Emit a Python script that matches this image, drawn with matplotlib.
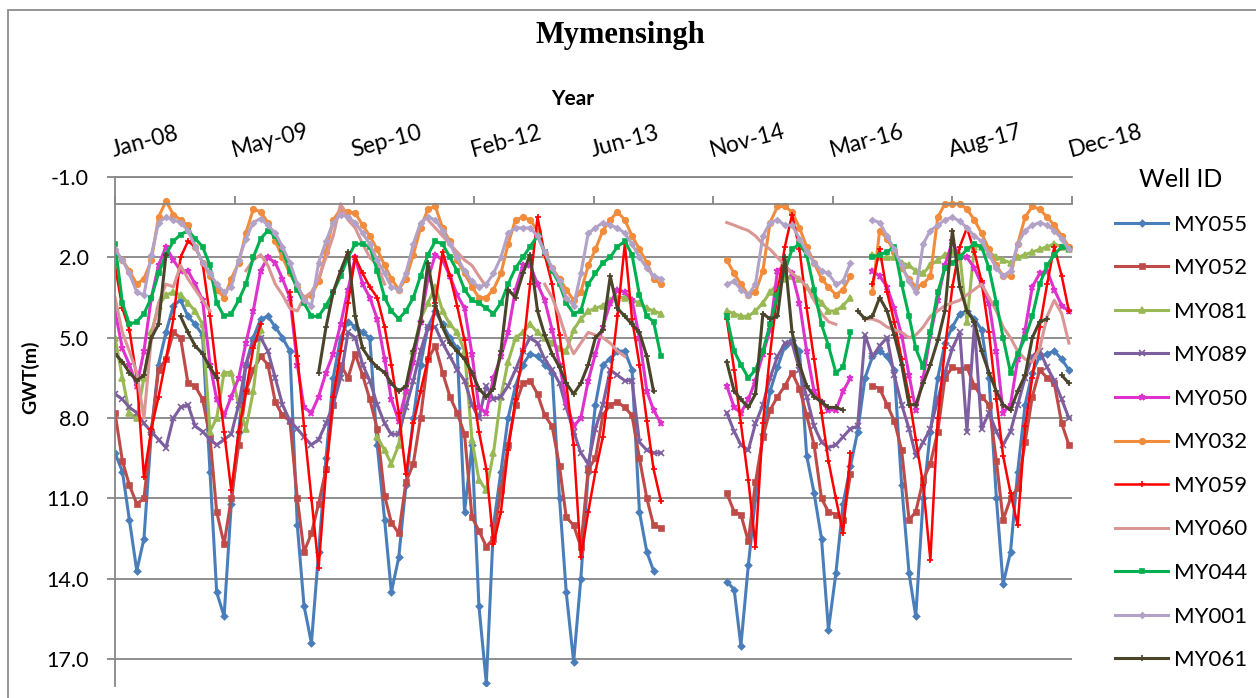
import numpy as np
import pandas as pd
import matplotlib
matplotlib.use('Agg')
from matplotlib import pyplot as plt
from matplotlib.patches import Rectangle
from matplotlib.ticker import FormatStrFormatter

NA = np.nan

# monthly readings, Jan 2008 .. Dec 2018 (one row per year)
months = pd.date_range('2008-01-01', periods=132, freq='MS')
tick_labels = ['Jan-08', 'May-09', 'Sep-10', 'Feb-12', 'Jun-13', 'Nov-14', 'Mar-16', 'Aug-17', 'Dec-18']
tick_step_days = 500

my055 = [9.3, 10.0, 11.8, 13.7, 12.5, 8.5, 6.0, 4.8, 3.8, 3.6, 4.2, 4.5,
         4.9, 10.0, 14.5, 15.4, 11.2, 8.5, 6.0, 5.0, 4.3, 4.2, 4.6, 5.0,
         5.5, 12.0, 15.0, 16.4, 13.0, 9.5, 6.5, 5.0, 4.4, 4.6, 4.8, 5.0,
         9.0, 11.8, 14.5, 13.2, 10.5, 8.0, 6.0, 4.6, 4.0, 4.5, 5.0, 5.4,
         11.5, 9.0, 15.0, 17.9, 12.0, 10.0, 8.0, 6.8, 6.0, 5.6, 5.7, 6.0,
         6.3, 11.0, 14.5, 17.1, 14.0, 10.0, 7.5, 6.0, 5.8, 5.5, 5.5, 6.2,
         11.5, 13.0, 13.7, NA, NA, NA, NA, NA, NA, NA, NA, NA,
         14.1, 14.4, 16.5, 13.5, 11.0, 8.6, 7.0, 6.1, 5.3, 5.1, 5.5, 9.4,
         10.8, 12.5, 15.9, 13.8, 11.2, 9.8, 8.5, 6.5, 5.7, 5.5, 5.7, 6.2,
         10.5, 13.8, 15.4, 11.0, 8.5, 6.5, 5.2, 4.6, 4.1, 4.0, 4.3, 4.7,
         6.5, 11.0, 14.2, 13.0, 10.0, 7.5, 6.3, 5.7, 5.6, 5.5, 5.8, 6.2]

my052 = [7.8, 9.6, 10.5, 11.2, 11.0, 8.5, 6.2, 5.8, 4.8, 5.0, 6.7, 6.8,
         7.3, 8.7, 11.5, 12.7, 11.0, 9.0, 7.0, 6.2, 5.7, 6.0, 7.4, 7.9,
         8.1, 11.0, 13.0, 12.3, 11.2, 9.9, 7.5, 6.0, 6.5, 5.6, 6.4, 7.3,
         8.4, 10.9, 11.9, 12.3, 10.4, 9.7, 8.0, 5.8, 5.3, 6.3, 7.2, 7.8,
         8.6, 11.7, 12.2, 12.8, 12.5, 10.7, 9.0, 7.5, 6.7, 6.6, 7.1, 7.9,
         8.3, 9.8, 11.7, 12.0, 12.8, 9.9, 9.5, 7.9, 7.5, 7.4, 7.6, 7.9,
         9.5, 11.0, 12.0, 12.1, NA, NA, NA, NA, NA, NA, NA, NA,
         10.8, 11.5, 11.6, 12.6, 10.4, 8.7, 7.7, 7.2, 6.8, 6.3, 6.9, 7.9,
         9.0, 11.0, 11.5, 11.6, 11.8, 10.1, NA, NA, 6.8, 6.9, 7.5, 8.1,
         9.2, 11.8, 11.5, 10.3, 9.7, 8.5, 6.5, 6.1, 6.2, 6.1, 6.8, 7.2,
         7.5, 9.6, 11.8, 11.0, 10.6, 8.9, 7.2, 6.2, 6.5, 6.7, 8.2, 9.0]

my081 = [5.0, 6.5, 7.8, 8.0, 6.5, 4.8, 3.8, 3.4, 3.3, 3.4, 3.7, 4.0,
         4.5, 8.5, 8.0, 6.3, 6.3, 7.5, 8.4, 7.0, 4.7, NA, NA, NA,
         NA, NA, NA, NA, NA, NA, NA, NA, NA, NA, NA, NA,
         8.7, 9.2, 9.7, 9.0, 7.0, 5.5, 4.3, 3.7, 3.1, 4.0, 4.5, 4.8,
         5.5, 8.8, 10.3, 10.7, 9.3, 7.2, 5.9, 5.0, 4.8, 4.5, 4.8, 5.0,
         5.2, 5.4, 5.5, 4.7, 4.3, 4.0, 3.9, 3.8, 3.6, 3.5, 3.5, 3.6,
         3.7, 3.9, 4.0, 4.1, NA, NA, NA, NA, NA, NA, NA, NA,
         4.0, 4.1, 4.2, 4.2, 4.0, 3.7, 3.3, 3.0, 2.8, 2.7, 2.8, 3.1,
         3.4, 3.7, 4.0, 4.0, 3.8, 3.5, NA, NA, 1.9, 2.0, 2.0, 2.0,
         2.2, 2.3, 2.5, 2.6, 2.3, 2.1, 1.9, 1.8, 1.9, 4.4, 1.6, 1.6,
         1.8, 2.0, 2.1, 2.2, 2.0, 1.9, 1.8, 1.7, 1.6, 1.5, 1.6, 1.7]

my089 = [7.1, 7.3, 7.6, 7.8, 8.2, 8.5, 8.8, 9.1, 8.0, 7.6, 7.5, 8.3,
         8.5, 8.8, 9.0, 8.8, 8.6, 7.5, 6.0, 5.2, 5.0, 5.5, 6.5, 7.5,
         8.1, 8.4, 8.7, 9.0, 8.8, 8.2, 7.5, 6.5, 4.8, 5.0, 6.0, 6.6,
         7.5, 8.2, 8.6, 8.6, 7.6, 6.6, 5.5, 4.6, 4.6, 5.2, 5.7, 6.2,
         6.6, 7.5, 8.0, 6.8, 7.3, 7.2, 6.8, 6.2, 5.5, 5.0, 5.2, 5.8,
         6.2, 6.7, 7.6, 8.5, 9.3, 9.7, 8.4, 7.5, 6.2, 6.4, 6.6, 6.6,
         8.9, 9.2, 9.3, 9.3, NA, NA, NA, NA, NA, NA, NA, NA,
         7.8, 8.5, 9.0, 9.2, 8.2, 7.5, 6.5, 5.7, 5.2, 5.2, 6.2, 7.2,
         8.3, 8.9, 9.1, 9.0, 8.7, 8.4, 8.3, 4.9, 5.7, 5.3, 5.0, 6.4,
         7.5, 8.4, 9.4, 8.9, 8.4, 7.3, 6.3, 5.4, 4.8, 8.5, 4.5, 8.4,
         7.8, 8.5, 9.0, 8.5, 7.5, 6.5, 5.7, 5.5, 6.1, 6.6, 7.3, 8.0]

my050 = [4.0, 5.4, 6.0, 6.8, 5.5, 3.5, 2.3, 1.6, 2.1, 2.5, 2.5, 3.0,
         3.6, 6.0, 7.3, 7.9, 7.2, 6.5, 5.2, 4.0, 2.5, 2.0, 2.2, 2.8,
         3.5, 6.0, 7.6, 7.8, 7.2, 6.3, 5.6, 4.5, 3.2, 2.0, 3.0, 3.5,
         4.3, 5.8, 7.3, 8.1, 7.0, 5.9, 4.4, 2.8, 1.9, 2.1, 2.7, 3.4,
         3.9, 5.6, 7.6, 7.8, 6.5, 5.7, 4.8, 3.2, 2.3, 2.3, 3.0, 3.6,
         4.7, 6.0, 7.4, 8.3, 8.0, 6.6, 5.6, 4.6, 3.7, 3.2, 3.3, 3.6,
         5.0, 7.0, 7.7, 8.2, NA, NA, NA, NA, NA, NA, NA, NA,
         6.8, 7.6, 7.8, 7.3, 6.6, 5.6, 4.7, 2.5, 2.3, 2.6, 3.7, 5.5,
         7.0, 7.4, 7.7, 7.7, 7.0, 6.5, NA, NA, 2.5, 2.7, 3.1, 3.9,
         4.9, 6.4, 7.7, 6.5, 4.9, 3.6, 2.3, 1.4, 2.0, 2.0, 2.4, 3.0,
         3.7, 5.5, 7.8, 7.5, 5.8, 4.7, 3.1, 2.6, 2.5, 3.2, 3.8, 4.0]

my032 = [1.8, 2.1, 2.5, 3.0, 2.8, 2.1, 0.5, -0.1, 0.4, 0.6, 0.8, 1.6,
         2.2, 2.7, 3.2, 3.5, 2.8, 2.2, 1.1, 0.2, 0.3, 0.7, 1.4, 2.0,
         2.6, 3.1, 3.5, 3.4, 2.9, 1.8, 0.6, 0.2, 0.3, 0.35, 0.8, 1.2,
         1.7, 2.3, 2.8, 3.2, 2.8, 1.9, 0.9, 0.2, 0.1, 0.9, 1.4, 2.1,
         2.6, 3.1, 3.5, 3.5, 3.2, 2.6, 1.5, 0.6, 0.5, 0.6, 1.0, 1.9,
         2.4, 2.8, 3.2, 3.6, 3.3, 2.3, 1.7, 1.0, 0.6, 0.3, 0.6, 1.2,
         1.7, 2.2, 2.8, 3.0, NA, NA, NA, NA, NA, NA, NA, NA,
         2.1, 2.6, 3.0, 3.4, 3.3, 2.5, 0.7, 0.1, 0.1, 0.3, 0.9, 1.6,
         2.2, 2.8, 3.1, 3.4, 3.2, 2.7, NA, NA, 3.3, 1.0, 1.3, 1.8,
         2.4, 2.8, 3.1, 3.0, 2.7, 0.5, 0.0, 0.0, 0.0, 0.2, 0.6, 1.1,
         1.7, 2.3, 2.7, 2.7, 1.5, 0.5, 0.1, 0.2, 0.5, 0.8, 1.2, 1.6]

my059 = [2.3, 3.9, 4.7, 6.5, 10.2, 8.4, 7.2, 5.8, 4.3, 2.0, 1.4, 1.6,
         2.2, 4.2, 6.3, 8.5, 10.7, 8.5, 7.0, 5.4, 4.5, NA, NA, NA,
         3.3, 5.7, 8.3, 11.0, 13.6, 10.0, 7.2, 5.5, 3.7, 2.0, 2.6, 3.1,
         3.5, 4.6, 6.0, 7.8, 10.1, 8.2, 7.0, 5.8, 3.7, 1.8, 2.7, 3.8,
         5.1, 6.8, 8.5, 9.9, 12.7, 11.5, 9.2, 7.3, 5.5, 3.0, 0.5, 1.9,
         3.0, 4.9, 6.7, 9.0, 13.2, 11.5, 10.0, 8.7, 6.5, 4.2, 1.5, 4.3,
         6.0, 8.1, 9.9, 11.1, NA, NA, NA, NA, NA, NA, NA, NA,
         4.3, 6.2, 8.2, 10.3, 12.8, 8.2, 5.6, 3.3, 1.6, 0.4, 1.7, 3.9,
         5.8, 7.8, 9.6, 11.0, 12.3, 9.3, NA, NA, 3.0, 1.7, 3.3, 4.4,
         5.8, 7.2, 8.8, 10.5, 13.3, 8.0, 5.4, 3.1, 1.6, 0.9, 1.8, 2.9,
         4.8, 7.3, 9.4, 10.8, 12.0, 8.3, 6.5, 4.6, 3.0, 1.6, 2.7, 4.0]

my060 = [3.5, 4.8, 5.5, 6.3, 8.0, 5.0, 3.7, 3.0, 3.1, 2.3, 2.8, 3.2,
         3.6, 4.0, NA, NA, NA, NA, 2.5, 2.1, 1.9, 2.3, 3.0, 3.4,
         3.9, 4.0, 3.5, 3.3, 2.8, 2.0, 1.2, 0.0, 0.6, 0.9, 1.5, 2.0,
         2.3, 3.0, NA, NA, NA, NA, NA, 0.6, 0.9, 1.2, 1.5, 1.8,
         2.1, 2.3, 2.7, 3.1, NA, NA, NA, NA, NA, NA, NA, 3.0,
         3.5, 4.2, 5.0, 5.6, 5.2, 4.8, 4.9, 5.0, 5.2, 5.5, 5.7, NA,
         NA, NA, NA, NA, NA, NA, NA, NA, NA, NA, NA, NA,
         0.7, 0.8, 0.9, 1.0, 1.2, 1.5, 1.7, 2.0, 2.3, 2.6, 2.8, 3.1,
         3.6, 4.1, 4.4, 4.5, NA, NA, NA, 4.3, 4.3, 4.4, 4.6, 4.7,
         4.8, 5.0, 4.9, 4.6, 4.2, 4.0, 3.8, 3.7, 3.6, 3.4, 3.2, 3.0,
         3.5, 4.0, 4.6, 5.0, 5.5, 5.8, 5.9, 5.4, 4.2, 3.6, 4.1, 5.2]

my044 = [1.5, 3.7, 4.5, 4.4, 4.1, 3.5, 2.6, 1.9, 1.4, 1.15, 1.0, 1.3,
         1.6, 2.3, 3.7, 4.2, 4.1, 3.6, 3.0, 2.0, 1.3, 1.0, 1.2, 1.7,
         2.5, 3.2, 3.7, 4.2, 4.2, 3.8, 3.3, 2.7, 2.0, 1.5, 1.5, 1.6,
         2.5, 3.5, 4.0, 4.3, 4.0, 3.5, 2.7, 1.9, 1.4, 1.5, 2.0, 2.5,
         3.2, 3.6, 3.7, 3.9, 4.1, 3.7, 3.0, 2.4, 2.0, 1.6, 1.2, 1.8,
         2.5, 3.0, 3.7, 4.1, 4.0, 3.0, 2.6, 2.2, 2.0, 1.6, 1.4, 1.9,
         3.4, 4.2, 4.4, 5.7, NA, NA, NA, NA, NA, NA, NA, NA,
         4.2, 5.5, 6.0, 6.5, 6.2, 5.5, 4.5, 3.4, 2.5, 1.7, 1.5, 1.9,
         3.2, 4.5, 5.3, 6.3, 6.1, 4.8, NA, NA, 2.0, 1.9, 1.8, 1.6,
         3.0, 4.2, 5.4, 6.1, 4.8, 3.3, 2.4, 2.2, 2.0, 1.7, 1.5, 1.6,
         2.4, 3.7, 5.0, 6.3, 5.6, 5.0, 4.2, 3.0, 2.3, 1.9, 1.6, 1.7]

my001 = [1.7, 2.1, 2.6, 3.3, 3.4, 1.9, 0.7, 0.5, 0.6, 0.7, 1.0, 1.6,
         2.2, 2.6, 3.0, 3.3, 3.1, 2.1, 1.3, 0.7, 0.55, 0.8, 1.1, 1.6,
         2.2, 3.0, 3.6, 3.8, 2.2, 1.4, 0.7, 0.4, 0.5, 0.7, 1.1, 1.5,
         2.1, 2.6, 3.1, 3.2, 2.6, 1.5, 0.7, 0.5, 0.6, 1.0, 1.5, 2.0,
         2.5, 2.9, 3.1, 3.0, 2.6, 2.0, 1.1, 0.9, 0.9, 0.9, 1.2, 1.8,
         2.4, 2.9, 3.5, 3.8, 2.6, 1.1, 0.9, 0.7, 0.8, 0.9, 1.1, 1.5,
         2.0, 2.4, 2.7, 2.8, NA, NA, NA, NA, NA, NA, NA, NA,
         3.0, 2.9, 3.2, 3.4, 3.0, 1.2, 0.7, 0.6, 0.8, 0.8, 1.3, 1.8,
         2.2, 2.5, 2.6, 3.0, 2.9, 2.2, NA, NA, 0.6, 0.7, 1.2, 1.7,
         2.3, 2.9, 3.3, 1.5, 1.0, 0.8, 0.6, 0.5, 0.65, 0.9, 1.2, 1.4,
         1.9, 2.4, 2.7, 2.5, 1.5, 1.0, 0.8, 0.7, 0.8, 1.0, 1.3, 1.7]

my061 = [5.6, 5.9, 6.3, 6.6, 6.4, 5.0, 4.5, 1.9, NA, 4.2, 4.8, 5.3,
         5.6, 6.1, 6.5, NA, NA, NA, NA, NA, NA, NA, NA, NA,
         NA, NA, NA, NA, 6.3, 4.6, 3.3, 2.5, 1.8, 4.2, 5.4, 5.8,
         6.1, 6.3, 6.7, 7.0, 6.8, 5.5, 4.4, 2.2, 3.8, 4.6, 5.2, 5.5,
         5.8, 6.3, 6.9, 7.2, 6.9, 5.5, 3.2, 3.5, 2.6, 1.9, 4.0, 4.9,
         5.6, 6.1, 6.7, 7.1, 6.7, 6.0, 5.0, 4.7, 2.7, 3.9, 4.2, 4.5,
         4.8, 5.7, 7.0, NA, NA, NA, NA, NA, NA, NA, NA, NA,
         5.9, 7.0, 7.3, 7.6, 7.1, 4.1, 4.3, 4.2, 2.0, 4.8, 6.0, 6.8,
         7.2, 7.4, 7.6, 7.6, 7.7, NA, 4.0, 4.3, 4.2, 3.5, 4.0, 4.9,
         6.0, 7.5, 7.5, 6.7, 6.0, 5.1, 4.0, 1.0, 3.1, 4.0, 4.4, 5.5,
         6.3, 7.0, 7.5, 7.7, 7.0, 6.4, 5.0, 4.4, 4.3, NA, 6.4, 6.7]

well_ids = ['MY055', 'MY052', 'MY081', 'MY089', 'MY050', 'MY032',
            'MY059', 'MY060', 'MY044', 'MY001', 'MY061']
series = [my055, my052, my081, my089, my050, my032,
          my059, my060, my044, my001, my061]

colors = ['#4A7EBB', '#BE4B48', '#98B954', '#7D5FA0', '#DD33CC', '#F08C3C',
          '#FF0000', '#D99694', '#00B050', '#B3A2C7', '#4A452A']
markers = ['D', 's', '^', 'x', '*', 'o', '+', 'None', 's', 'D', '+']
msizes = [3.2, 3.6, 4.0, 4.0, 4.5, 4.0, 4.5, 0, 2.4, 2.8, 4.0]
lwidths = [2.2, 2.2, 2.2, 2.2, 2.2, 2.2, 1.8, 2.2, 2.2, 2.2, 2.2]

grey = '#868686'
plt.rcParams['font.family'] = ['Lato', 'DejaVu Sans']
plt.rcParams['axes.unicode_minus'] = False

fig = plt.figure(figsize=(12.56, 6.98), dpi=100)
ax = fig.add_axes([115/1256, 1 - 686/698, (1072 - 115)/1256, (686 - 177)/698])

for wid, vals, col, mk, ms, lw in zip(well_ids, series, colors, markers, msizes, lwidths):
    ax.plot(months, vals, color=col, lw=lw, marker=mk, markersize=ms,
            markeredgecolor=col, markerfacecolor=col, markeredgewidth=1.2, label=wid)

start = pd.Timestamp('2008-01-01')
tick_dates = [start + pd.Timedelta(days=tick_step_days * k) for k in range(len(tick_labels))]
ax.set_xlim(tick_dates[0], tick_dates[-1])
ax.set_xticks(tick_dates)
ax.tick_params(axis='x', which='both', top=False, labeltop=False, bottom=True, labelbottom=False,
               direction='in', length=6, width=1.3, color=grey)
# date labels sit above the plot, slanted like the original
for d, lab in zip(tick_dates, tick_labels):
    ax.text(d, 1.031, lab, transform=ax.get_xaxis_transform(), fontsize=16.5,
            rotation=15, rotation_mode='anchor', ha='left', va='bottom')

ax.set_ylim(18, -1)
ax.set_yticks(np.arange(-1, 18, 3))
ax.yaxis.set_major_formatter(FormatStrFormatter('%.1f'))
ax.tick_params(axis='y', direction='out', length=6, width=1.3, color=grey, labelsize=15.5, pad=13)
ax.grid(axis='y', color=grey, lw=1.3)
ax.set_axisbelow(True)

ax.spines['right'].set_visible(False)
ax.spines['bottom'].set_position(('data', 0))
for s in ['left', 'top', 'bottom']:
    ax.spines[s].set_color(grey)
    ax.spines[s].set_linewidth(1.3)

fig.text(620/1256, 1 - 43/698, 'Mymensingh', family='Liberation Serif', weight='bold',
         fontsize=22, ha='center', va='baseline')
fig.text(573/1256, 1 - 105/698, 'Year', weight='bold', fontsize=15, ha='center', va='baseline')
fig.text(30/1256, 1 - 377/698, 'GWT(m)', weight='bold', fontsize=14, rotation=90,
         ha='center', va='center')

leg = ax.legend(loc='upper left', bbox_to_anchor=(1115/1256, 1 - 168/698),
                bbox_transform=fig.transFigure, frameon=False, fontsize=16,
                title='Well ID', title_fontsize=18, numpoints=1, handlelength=2.4,
                handletextpad=0.25, labelspacing=1.06, borderpad=0, borderaxespad=0)

fig.patches.append(Rectangle((8/1256, -0.1), 1.2, 1 - 10/698 + 0.1, transform=fig.transFigure,
                             fill=False, edgecolor='#8C8C8C', lw=1.3, clip_on=False))

fig.savefig('out.png', dpi=100)
